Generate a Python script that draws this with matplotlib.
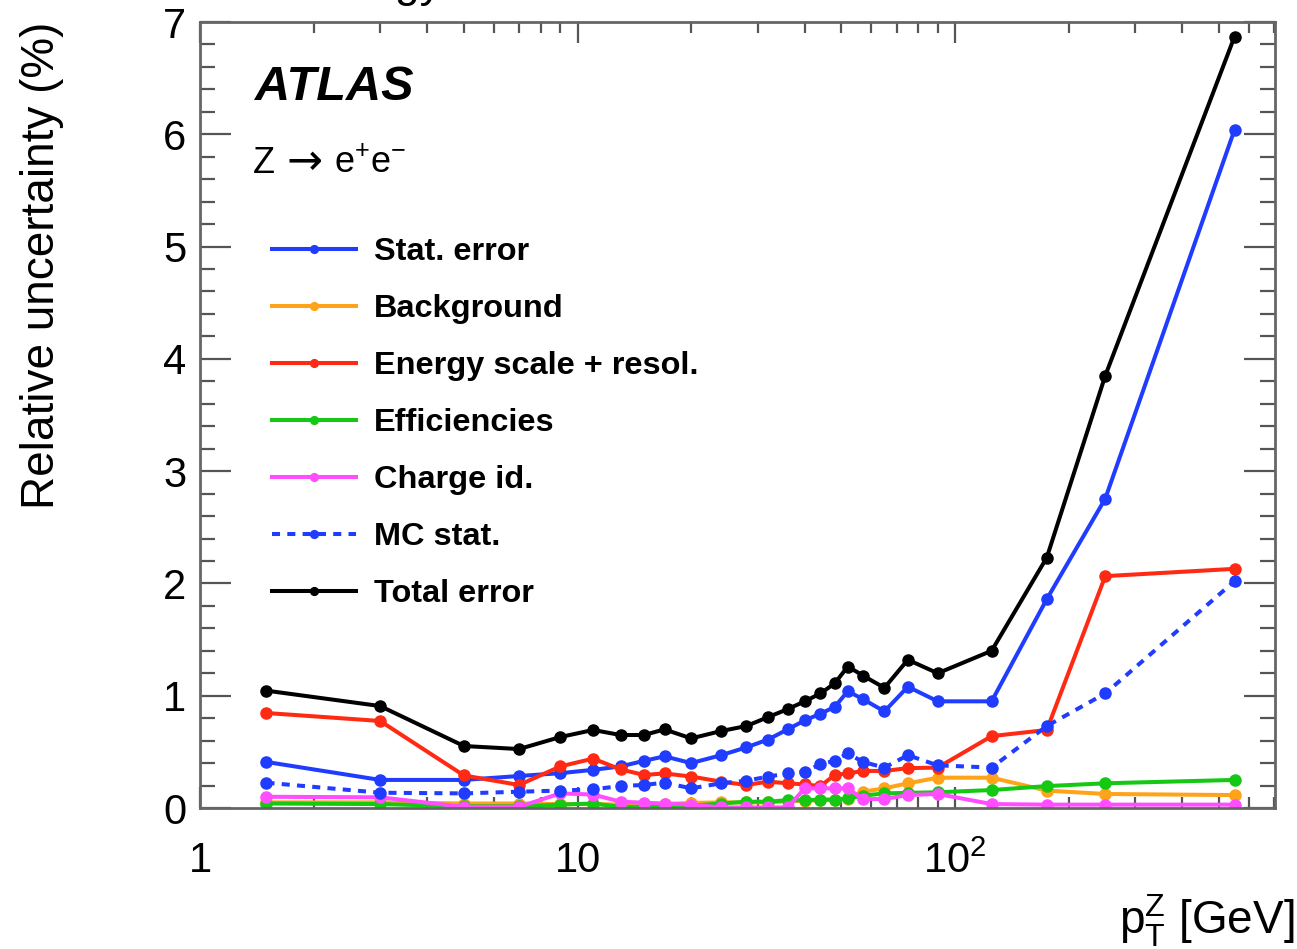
import matplotlib
matplotlib.use("Agg")
import matplotlib.pyplot as plt
from matplotlib.ticker import FixedLocator, FixedFormatter, LogLocator, MultipleLocator, NullFormatter

plt.rcParams['font.family'] = ['Liberation Sans', 'DejaVu Sans']
plt.rcParams['mathtext.fontset'] = 'custom'
plt.rcParams['mathtext.rm'] = 'Liberation Sans'
plt.rcParams['mathtext.it'] = 'Liberation Sans:italic'
plt.rcParams['mathtext.bf'] = 'Liberation Sans:bold'

# ---- data ----
pt = [1.5, 3, 5, 7, 9, 11, 13, 15, 17, 20, 24, 28, 32, 36, 40, 44, 48, 52, 57, 65, 75, 90, 125, 175, 250, 550]

stat_err = [0.41, 0.25, 0.25, 0.285, 0.31, 0.34, 0.37, 0.42, 0.46, 0.40, 0.47, 0.54, 0.61, 0.70, 0.78, 0.84,
            0.90, 1.04, 0.97, 0.86, 1.08, 0.95, 0.95, 1.86, 2.755, 6.04]
background = [0.05, 0.05, 0.04, 0.04, 0.035, 0.035, 0.03, 0.03, 0.035, 0.045, 0.05, 0.05, 0.05, 0.06, 0.065,
              0.07, 0.075, 0.08, 0.145, 0.175, 0.22, 0.27, 0.27, 0.155, 0.125, 0.115]
energy = [0.846, 0.775, 0.29, 0.205, 0.37, 0.44, 0.344, 0.294, 0.308, 0.28, 0.235, 0.205, 0.235, 0.22, 0.21,
          0.195, 0.294, 0.308, 0.33, 0.33, 0.355, 0.36, 0.64, 0.695, 2.065, 2.13]
efficiencies = [0.04, 0.035, 0.015, 0.015, 0.03, 0.04, 0.01, 0.01, 0.01, 0.02, 0.04, 0.056, 0.056, 0.07, 0.07,
                0.075, 0.075, 0.085, 0.11, 0.13, 0.135, 0.14, 0.16, 0.195, 0.22, 0.25]
charge_id = [0.10, 0.095, 0.01, 0.01, 0.13, 0.12, 0.056, 0.047, 0.04, 0.03, 0.005, 0.005, 0.005, 0.005, 0.175,
             0.175, 0.175, 0.175, 0.08, 0.08, 0.116, 0.125, 0.035, 0.03, 0.03, 0.03]
mc_stat = [0.225, 0.136, 0.13, 0.145, 0.155, 0.166, 0.196, 0.205, 0.226, 0.175, 0.22, 0.243, 0.28, 0.308, 0.323,
           0.39, 0.42, 0.487, 0.41, 0.36, 0.47, 0.38, 0.36, 0.73, 1.02, 2.02]
total_err = [1.045, 0.908, 0.552, 0.525, 0.632, 0.695, 0.65, 0.65, 0.70, 0.62, 0.685, 0.73, 0.81, 0.88, 0.95,
             1.02, 1.11, 1.26, 1.18, 1.07, 1.32, 1.20, 1.40, 2.23, 3.85, 6.87]

labels = ["Stat. error", "Background", "Energy scale + resol.", "Efficiencies", "Charge id.", "MC stat.", "Total error"]
xtick_vals = [1, 10, 100]
xtick_labels = ["1", "10", r"$\mathregular{10^{2}}$"]

# ---- figure ----
fig = plt.figure(figsize=(12.97, 9.49), dpi=100)
ax = fig.add_axes([200/1297, 141/949, 1075/1297, 786/949])

lw = 2.9
ms = 8
series = [
    (stat_err, '#1f3cff', '-'),
    (background, '#ffa31a', '-'),
    (energy, '#ff2a14', '-'),
    (efficiencies, '#14c814', '-'),
    (charge_id, '#ff4dff', '-'),
    (mc_stat, '#1f3cff', '--'),
    (total_err, 'black', '-'),
]
for (vals, col, ls), lab in zip(series, labels):
    kw = dict(color=col, lw=lw, marker='o', ms=ms, label=lab, mec=col, mfc=col)
    if ls == '--':
        kw['dashes'] = (2.0, 1.8)
    ax.plot(pt, vals, **kw)

ax.set_xscale('log')
ax.set_xlim(1, 704)
ax.set_ylim(0, 7)

ax.xaxis.set_major_locator(FixedLocator(xtick_vals))
ax.xaxis.set_major_formatter(FixedFormatter(xtick_labels))
ax.xaxis.set_minor_locator(LogLocator(base=10, subs=[2, 3, 4, 5, 6, 7, 8, 9], numticks=20))
ax.xaxis.set_minor_formatter(NullFormatter())
ax.yaxis.set_major_locator(MultipleLocator(1))
ax.yaxis.set_minor_locator(MultipleLocator(0.2))

tc = '#555555'
ax.tick_params(axis='both', which='both', direction='in', top=True, right=True, color=tc, width=1.6)
ax.tick_params(axis='x', which='major', length=15, pad=24, labelsize=30)
ax.tick_params(axis='x', which='minor', length=8)
ax.tick_params(axis='y', which='major', length=22, pad=10, labelsize=30)
ax.tick_params(axis='y', which='minor', length=11)
for s in ax.spines.values():
    s.set_color('#666666')
    s.set_linewidth(2)

ax.set_ylabel("Relative uncertainty (%)", fontsize=33, loc='top', labelpad=71)
ax.text(1.018, -0.108, r"$\mathregular{p_{T}^{Z}}$ [GeV]", transform=ax.transAxes, ha='right', va='top', fontsize=33)

ax.text(0.051, 0.917, "ATLAS", transform=ax.transAxes, fontsize=35, fontweight='bold', fontstyle='italic', va='center')
# Z -> e+e- : three pieces so the arrow can use a font with a long arrow glyph
ax.text(0.049, 0.808, "Z", transform=ax.transAxes, fontsize=26, va='baseline', ha='left')
ax.text(0.0805, 0.806, "\u2192", transform=ax.transAxes, fontsize=31, va='baseline', ha='left',
        family=['DejaVu Sans'])
ax.text(0.1245, 0.808, "e$\\mathregular{^{+}}$e$\\mathregular{^{-}}$", transform=ax.transAxes,
        fontsize=26, va='baseline', ha='left')

leg = ax.legend(loc='upper left', bbox_to_anchor=(0.067, 0.726), frameon=False,
                prop={'weight': 'bold', 'size': 23.4}, handlelength=2.58, handletextpad=0.55,
                labelspacing=0.83, borderpad=0, borderaxespad=0, numpoints=1, markerscale=0.7)

fig.text(442/1297, 1.0 + 3/949, "Energy", ha='right', va='baseline', fontsize=32)

fig.savefig("out.png", dpi=100)
